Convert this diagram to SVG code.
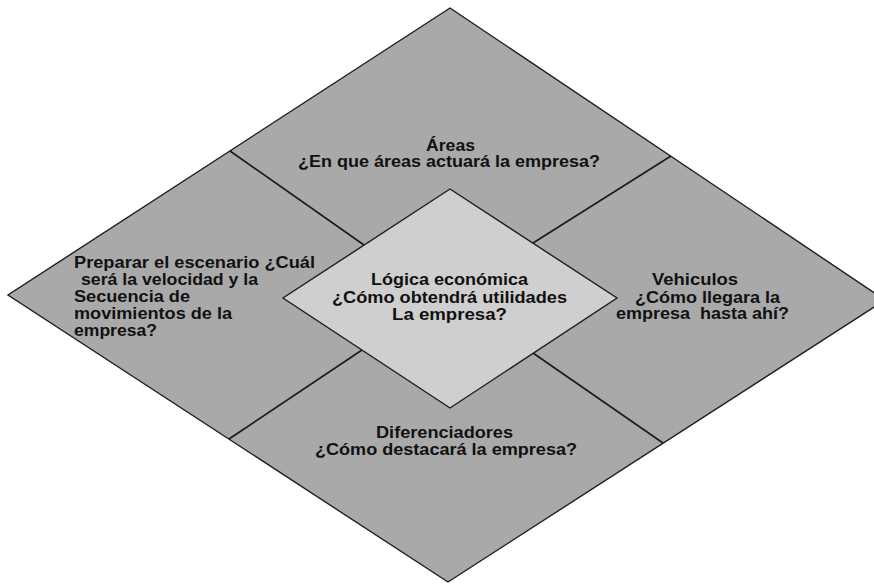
<svg xmlns="http://www.w3.org/2000/svg" width="874" height="584" viewBox="0 0 874 584">
  <style>
    .outer { fill: #a9a9a9; stroke: #1e1e1e; stroke-width: 1.4; stroke-linejoin: miter; }
    .inner { fill: #cfcfcf; stroke: #1e1e1e; stroke-width: 1.4; }
    .div { stroke: #1a1a1a; stroke-width: 1.6; fill: none; }
    text { font-family: "Liberation Sans", Arial, sans-serif; font-weight: bold; font-size: 16px; fill: #111; }
  </style>
  <rect width="874" height="584" fill="#ffffff"/>

  <!-- outer rhombus -->
  <g id="outer">
    <polygon class="outer" points="450,8 885,300 448,582 8,295"/>
  </g>

  <!-- divider lines between the four outer fields -->
  <g id="dividers">
    <line class="div" x1="230" y1="151" x2="364" y2="245"/>
    <line class="div" x1="533" y1="243" x2="671" y2="156"/>
    <line class="div" x1="533" y1="353" x2="663" y2="443"/>
    <line class="div" x1="362" y1="350" x2="229" y2="439"/>
  </g>

  <!-- central field -->
  <g id="logica">
    <polygon class="inner" points="450,189 617,298 450,408 283,298"/>
    <text x="371" y="285" textLength="157" lengthAdjust="spacingAndGlyphs">Lógica económica</text>
    <text x="332" y="303" textLength="235" lengthAdjust="spacingAndGlyphs">¿Cómo obtendrá utilidades</text>
    <text x="392" y="320" textLength="115" lengthAdjust="spacingAndGlyphs">La empresa?</text>
  </g>

  <!-- top field -->
  <g id="areas">
    <text x="426" y="151" textLength="49" lengthAdjust="spacingAndGlyphs">Áreas</text>
    <text x="298" y="167" textLength="302" lengthAdjust="spacingAndGlyphs">¿En que áreas actuará la empresa?</text>
  </g>

  <!-- left field -->
  <g id="escenario">
    <text x="74" y="268" textLength="241" lengthAdjust="spacingAndGlyphs">Preparar el escenario ¿Cuál</text>
    <text x="81" y="285" textLength="177" lengthAdjust="spacingAndGlyphs">será la velocidad y la</text>
    <text x="74" y="302" textLength="116" lengthAdjust="spacingAndGlyphs">Secuencia de</text>
    <text x="74" y="319" textLength="158" lengthAdjust="spacingAndGlyphs">movimientos de la</text>
    <text x="74" y="336" textLength="83" lengthAdjust="spacingAndGlyphs">empresa?</text>
  </g>

  <!-- right field -->
  <g id="vehiculos">
    <text x="652" y="285" textLength="86" lengthAdjust="spacingAndGlyphs">Vehiculos</text>
    <text x="635" y="303" textLength="145" lengthAdjust="spacingAndGlyphs">¿Cómo llegara la</text>
    <text x="616" y="319" textLength="173" lengthAdjust="spacingAndGlyphs" xml:space="preserve">empresa  hasta ahí?</text>
  </g>

  <!-- bottom field -->
  <g id="diferenciadores">
    <text x="376" y="438" textLength="137" lengthAdjust="spacingAndGlyphs">Diferenciadores</text>
    <text x="315" y="455" textLength="262" lengthAdjust="spacingAndGlyphs">¿Cómo destacará la empresa?</text>
  </g>
</svg>
